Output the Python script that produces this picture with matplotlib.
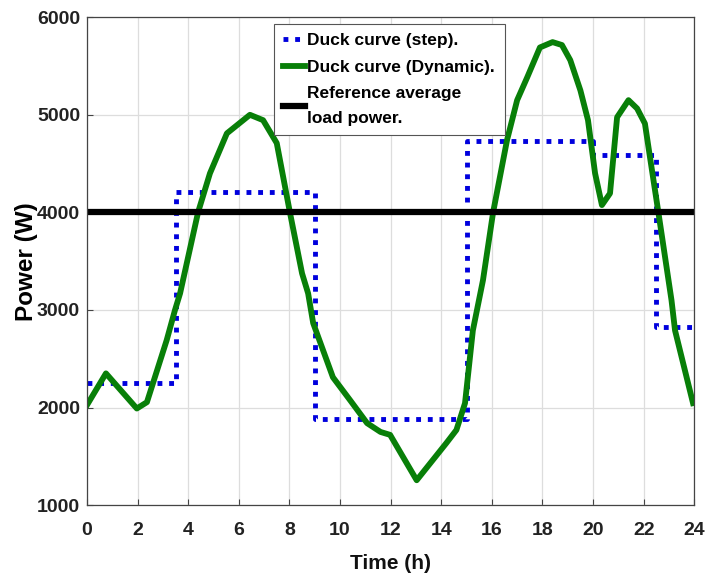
import numpy as np
import matplotlib
matplotlib.use("Agg")
import matplotlib.pyplot as plt

plt.rcParams['font.family'] = ['Liberation Sans', 'DejaVu Sans']
plt.rcParams['font.weight'] = 'bold'

# step duck curve (start hour of each step, level)
step_t = [0, 3.5, 9, 15, 20, 22.5, 24]
step_p = [2250, 4205, 1880, 4730, 4585, 2825, 2825]

# dynamic duck curve
dyn_t = [0, 0.75, 1.97, 2.37, 3.15, 3.48, 3.68, 4.39, 4.86, 5.53, 6.44, 6.96, 7.5, 8.02,
         8.5, 8.74, 8.94, 9.72, 10.4, 11.07, 11.6, 11.98, 13.03, 14.2, 14.6, 14.94, 15.25,
         15.65, 16.05, 16.6, 17.0, 17.4, 17.9, 18.4, 18.77, 19.1, 19.5, 19.8, 20.08, 20.35,
         20.67, 20.95, 21.4, 21.74, 22.05, 22.25, 22.57, 23.1, 23.24, 23.95]
dyn_p = [2025, 2350, 1990, 2055, 2690, 3000, 3170, 4000, 4400, 4810, 5000, 4945, 4710, 4000,
         3375, 3170, 2865, 2310, 2075, 1840, 1750, 1720, 1255, 1635, 1770, 2045, 2790,
         3305, 4000, 4740, 5150, 5385, 5690, 5745, 5715, 5560, 5250, 4945, 4400, 4075,
         4195, 4975, 5150, 5065, 4910, 4565, 4020, 3100, 2790, 2045]

ref_level = 4000

fig = plt.figure(figsize=(7.07, 5.74), dpi=100)
ax = fig.add_axes([0.123, 0.12, 0.859, 0.85])

ax.plot(step_t, step_p, drawstyle='steps-post', color='#0000dd', lw=3.5,
        dashes=(1, 1.4), dash_capstyle='butt', label='Duck curve (step).')
ax.plot(dyn_t, dyn_p, color='#087f08', lw=4.2, solid_joinstyle='round',
        label='Duck curve (Dynamic).')
ax.axhline(ref_level, color='black', lw=4.5, label='Reference average\nload power.')

ax.set_xlim(0, 24)
ax.set_ylim(1000, 6000)
ax.set_xticks(np.arange(0, 25, 2))
ax.set_yticks([1000, 2000, 3000, 4000, 5000, 6000])
ax.grid(True, color='#dddddd', lw=0.9)
ax.set_axisbelow(True)
ax.tick_params(direction='in', labelsize=14, length=4, color='#444444',
               labelcolor='#222222')
ax.tick_params(axis='x', pad=12)
ax.tick_params(axis='y', pad=5)
for s in ax.spines.values():
    s.set_color('#444444')
    s.set_linewidth(0.9)

ax.set_xlabel('Time (h)', fontsize=15, fontweight='bold', labelpad=11, color='#111111')
ax.set_ylabel('Power (W)', fontsize=17.5, fontweight='bold', labelpad=-1)

leg = ax.legend(loc='upper center', bbox_to_anchor=(0.4975, 0.987), fontsize=12.5,
                frameon=True, fancybox=False, edgecolor='#555555', framealpha=1,
                handlelength=1.25, handletextpad=0.15, labelspacing=0.65, borderpad=0.55,
                borderaxespad=0)
leg.get_frame().set_linewidth(0.8)
leg.get_texts()[2].set_linespacing(1.8)

fig.savefig('out.png', dpi=100)
